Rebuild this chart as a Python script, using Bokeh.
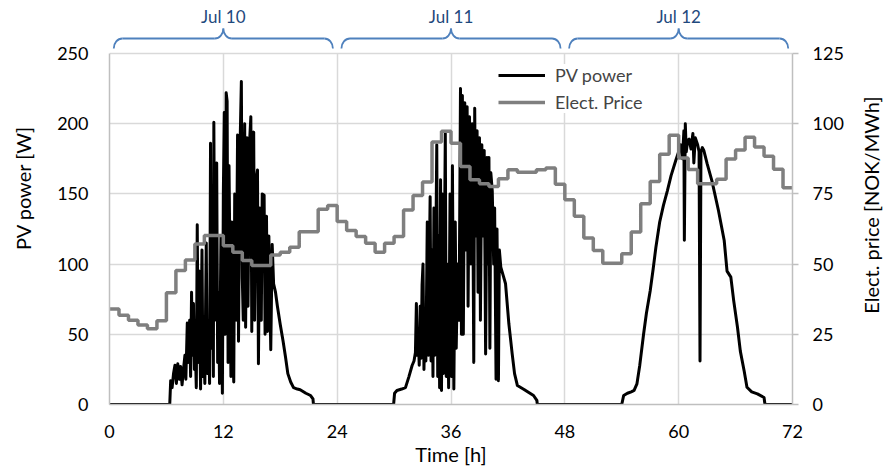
import math
from bokeh.plotting import figure
from bokeh.layouts import row
from bokeh.models import Range1d, LinearAxis, FixedTicker
from bokeh.core.properties import value
from bokeh.embed import file_html
from bokeh.resources import INLINE

# ---------------- data ----------------
x_ticks = [0, 12, 24, 36, 48, 60, 72]
pv_ticks = [0, 50, 100, 150, 200, 250]
price_ticks = [0, 25, 50, 75, 100, 125]

day_labels = ["Jul 10", "Jul 11", "Jul 12"]
day_starts = [0, 24, 48]

x_title = "Time [h]"
pv_title = "PV power [W]"
price_title = "Elect. price [NOK/MWh]"

# hourly electricity price [NOK/MWh], hour 0..71
price_hours = list(range(73))
price = [34.0, 31.8, 30.0, 28.3, 27.0, 29.8, 39.8, 47.7, 51.5, 57.2, 60.2, 60.2,
         56.5, 54.2, 51.3, 49.5, 49.5, 53.2, 54.2, 56.0, 61.5, 61.5, 69.5, 70.9,
         65.2, 62.0, 59.8, 57.4, 54.2, 57.4, 59.8, 69.3, 74.4, 79.2, 93.5, 97.3,
         93.0, 84.8, 80.0, 78.6, 77.6, 80.4, 83.6, 82.7, 82.7, 83.6, 84.2, 78.4,
         72.9, 67.0, 59.3, 54.8, 50.3, 50.3, 53.7, 61.4, 71.5, 79.4, 89.1, 95.9,
         87.8, 83.7, 78.6, 78.6, 80.2, 87.4, 90.6, 95.2, 91.7, 88.4, 83.8, 77.2]
price_steps = price + [price[-1]]

# PV power [W] (time in hours, value in W)
pv_hours = [
    0, 6.35, 6.45, 6.6, 6.75, 6.9, 7.05, 7.2, 7.35, 7.5, 7.65, 7.8, 7.95, 8.05, 8.2, 8.3,
    8.45, 8.55, 8.65, 8.75, 8.85, 8.95, 9.05, 9.15, 9.25, 9.35, 9.45, 9.6, 9.75, 9.85,
    9.95, 10.05, 10.2, 10.3, 10.45, 10.55, 10.65, 10.75, 10.85, 10.95, 11.0, 11.1, 11.2,
    11.3, 11.4, 11.5, 11.6, 11.75, 11.9, 12.0, 12.1, 12.2, 12.3, 12.4, 12.5, 12.6, 12.7,
    12.8, 12.9, 13.0, 13.1, 13.2, 13.35, 13.5, 13.6, 13.75, 13.9, 14.0, 14.1, 14.25,
    14.35, 14.5, 14.6, 14.75, 14.9, 15.0, 15.1, 15.2, 15.3, 15.45, 15.6, 15.7, 15.85,
    16.0, 16.1, 16.3, 16.4, 16.55, 16.65, 16.8, 17.0, 17.15, 17.3, 17.5, 17.7, 18.0,
    18.3, 18.55, 18.8, 19.1, 19.4, 19.8, 20.1, 20.7, 21.2, 21.45, 21.5,
    29.95, 30.05, 30.3, 30.8, 31.2, 31.55, 31.9, 32.1, 32.25, 32.35, 32.45, 32.55, 32.65,
    32.75, 32.85, 32.95, 33.05, 33.15, 33.25, 33.35, 33.5, 33.6, 33.7, 33.8, 33.9, 34.0,
    34.1, 34.2, 34.3, 34.5, 34.6, 34.7, 34.8, 34.9, 35.0, 35.1, 35.2, 35.4, 35.5, 35.6,
    35.75, 35.9, 36.05, 36.15, 36.3, 36.45, 36.55, 36.7, 36.85, 37.0, 37.1, 37.2, 37.3,
    37.45, 37.55, 37.7, 37.8, 37.95, 38.1, 38.25, 38.4, 38.5, 38.6, 38.75, 38.85, 39.0,
    39.1, 39.25, 39.4, 39.5, 39.65, 39.8, 39.9, 40.0, 40.1, 40.2, 40.35, 40.5, 40.6,
    40.75, 40.85, 41.0, 41.1, 41.25, 41.5, 41.75, 42.1, 42.45, 42.7, 43.0, 43.7, 44.2,
    44.7, 45.05, 45.1,
    54.0, 54.2, 54.6, 55.0, 55.3, 55.6, 55.9, 56.3, 56.6, 57.0, 57.3, 57.6, 58.0, 58.4,
    58.8, 59.2, 59.7, 60.0, 60.2, 60.4, 60.55, 60.6, 60.7, 60.8, 60.95, 61.1, 61.3, 61.5,
    61.6, 61.75, 62.0, 62.15, 62.25, 62.35, 62.5, 62.65, 63.0, 63.5, 64.2, 64.8, 65.1,
    65.5, 65.8, 66.2, 66.5, 66.9, 67.2, 67.7, 68.3, 69.0, 69.1, 72.0]
pv_watts = [
    0, 0, 17, 12, 22, 28, 15, 29, 18, 27, 14, 25, 35, 18, 58, 30,
    60, 20, 80, 35, 72, 25, 40, 12, 128, 30, 95, 11, 110, 20,
    40, 15, 115, 22, 60, 15, 186, 40, 120, 20, 201, 60, 150,
    172, 30, 80, 15, 120, 8, 150, 208, 50, 222, 216, 30, 170, 100,
    20, 130, 40, 16, 150, 60, 192, 45, 180, 230, 90, 60, 200,
    55, 190, 70, 185, 205, 52, 175, 194, 60, 160, 167, 29, 140,
    60, 150, 149, 50, 134, 52, 120, 39, 114, 86, 80, 70, 57,
    45, 34, 22, 16, 12, 11, 10.5, 8, 6.4, 4, 0,
    0, 8, 10, 11, 12, 19.5, 27.8, 31, 37, 72, 35, 50, 28,
    70, 33, 85, 100, 25, 60, 31, 130, 35, 90, 148, 31, 110,
    20, 140, 35, 185, 20, 120, 12, 160, 10, 150, 22, 193, 20, 100,
    12, 150, 20, 170, 11, 130, 40, 100, 60, 225, 50, 220, 50,
    215, 110, 212, 70, 205, 100, 200, 30, 211, 120, 195, 80, 190,
    60, 185, 120, 181, 36, 176, 100, 176, 40, 165, 152, 100, 140,
    18, 125, 17, 110, 97.8, 92, 86, 57.5, 36, 22, 13.5, 10.7, 8.5,
    6.4, 3, 0,
    0, 6.4, 8, 9, 10, 14.7, 28, 50, 65, 81, 96, 112, 130, 142,
    152, 163, 174, 180, 185, 175, 195, 117, 200, 180, 188, 189, 182, 193,
    172, 190, 185, 180, 31, 180, 183, 181, 171.5, 159.5, 138, 116.8, 95,
    90.7, 74, 55, 38, 24, 12.3, 9, 7.6, 5, 0, 0]

# ---------------- style ----------------
FONT = "Lato"
GRID = "#d9d9d9"
AXIS = "#bfbfbf"
BLUE_LINE = "#4F81BD"
BLUE_TEXT = "#1F497D"

H = 470
LEFT_W, RIGHT_W = 35, 27
MAIN_W = 883 - LEFT_W - RIGHT_W

Y_TOP = 287.75          # frame top (room for the day braces above 250 W)
P_TOP = Y_TOP / 2.0     # price range: 125 NOK/MWh <-> 250 W

p = figure(width=MAIN_W, height=H, x_range=Range1d(0, 72), y_range=Range1d(0, Y_TOP),
           output_backend="svg", toolbar_location=None,
           min_border_left=74, min_border_right=64, min_border_top=0, min_border_bottom=66)
p.outline_line_color = None
p.background_fill_color = "white"
p.extra_y_ranges = {"price": Range1d(0, P_TOP)}

# grids
p.xgrid.ticker = FixedTicker(ticks=x_ticks)
p.ygrid.ticker = FixedTicker(ticks=pv_ticks)
for g in (p.xgrid, p.ygrid):
    g.grid_line_color = GRID
    g.grid_line_width = 1.5
p.xgrid.cross_bounds = (0, 250)
p.ygrid.cross_bounds = (0, 72)

# bottom axis
xa = p.xaxis[0]
xa.ticker = FixedTicker(ticks=x_ticks)
xa.axis_label = x_title
xa.axis_line_color = AXIS
xa.axis_line_width = 1.5
xa.major_tick_line_color = None
xa.minor_tick_line_color = None
xa.major_label_standoff = 14
xa.axis_label_standoff = 1

# left axis
ya = p.yaxis[0]
ya.ticker = FixedTicker(ticks=pv_ticks)
ya.bounds = (0, 250)
ya.axis_line_color = AXIS
ya.axis_line_width = 1.5
ya.major_tick_line_color = None
ya.minor_tick_line_color = None
ya.major_label_standoff = 15

# right axis
ra = LinearAxis(y_range_name="price", ticker=FixedTicker(ticks=price_ticks), bounds=(0, 125))
ra.axis_line_color = AXIS
ra.axis_line_width = 1.5
ra.major_tick_line_color = AXIS
ra.major_tick_line_width = 1.5
ra.major_tick_out = 6
ra.major_tick_in = 0
ra.minor_tick_line_color = None
ra.major_label_standoff = 14
p.add_layout(ra, "right")

for ax in (xa, ya, ra):
    ax.major_label_text_font = FONT
    ax.major_label_text_font_size = "18px"
    ax.major_label_text_color = "black"
    ax.axis_label_text_font = FONT
    ax.axis_label_text_font_size = "20px"
    ax.axis_label_text_font_style = "normal"
    ax.axis_label_text_color = "black"

# data lines
p.line(pv_hours, pv_watts, line_color="black", line_width=3, line_join="round",
       legend_label="PV power")
p.step(price_hours, price_steps, mode="after", y_range_name="price",
       line_color="#7f7f7f", line_width=3.5, legend_label="Elect. Price")

# day braces above the plot area
y_end, y_mid, y_tip = 253.6, 260.7, 267.8
r, k = 0.9, 0.55
bx0, by0, bx1, by1, bc0x, bc0y, bc1x, bc1y = [], [], [], [], [], [], [], []
sx0, sy0, sx1, sy1 = [], [], [], []
for s in day_starts:
    xl, xr, xc = s + 0.45, s + 23.55, s + 12.0
    bx0.append(xl); by0.append(y_end); bx1.append(xl + r); by1.append(y_mid)
    bc0x.append(xl); bc0y.append(y_end + k * (y_mid - y_end)); bc1x.append(xl + (1 - k) * r); bc1y.append(y_mid)
    bx0.append(xc - r); by0.append(y_mid); bx1.append(xc); by1.append(y_tip)
    bc0x.append(xc - (1 - k) * r); bc0y.append(y_mid); bc1x.append(xc); bc1y.append(y_tip - k * (y_tip - y_mid))
    bx0.append(xc); by0.append(y_tip); bx1.append(xc + r); by1.append(y_mid)
    bc0x.append(xc); bc0y.append(y_tip - k * (y_tip - y_mid)); bc1x.append(xc + (1 - k) * r); bc1y.append(y_mid)
    bx0.append(xr - r); by0.append(y_mid); bx1.append(xr); by1.append(y_end)
    bc0x.append(xr - (1 - k) * r); bc0y.append(y_mid); bc1x.append(xr); bc1y.append(y_end + k * (y_mid - y_end))
    sx0 += [xl + r, xc + r]; sx1 += [xc - r, xr - r]; sy0 += [y_mid, y_mid]; sy1 += [y_mid, y_mid]

p.bezier(x0=bx0, y0=by0, x1=bx1, y1=by1, cx0=bc0x, cy0=bc0y, cx1=bc1x, cy1=bc1y,
         line_color=BLUE_LINE, line_width=1.8)
p.segment(x0=sx0, y0=sy0, x1=sx1, y1=sy1, line_color=BLUE_LINE, line_width=1.8)
p.text(x=[s + 12 for s in day_starts], y=[276.0] * 3, text=day_labels,
       text_font=value(FONT), text_font_size="17px", text_color=BLUE_TEXT,
       text_align="center", text_baseline="middle")

# legend
lg = p.legend[0]
lg.location = (389, 291)
lg.label_text_font = FONT
lg.label_text_font_size = "18px"
lg.glyph_width = 47
lg.glyph_height = 20
lg.label_height = 20
lg.spacing = 5
lg.padding = 5
lg.margin = 0
lg.label_standoff = 10
lg.border_line_color = None
lg.background_fill_color = "white"
lg.background_fill_alpha = 1.0


# side strips carrying the rotated axis titles (read bottom-to-top)
def title_strip(width, x, y, text):
    f = figure(width=width, height=H, x_range=Range1d(0, width), y_range=Range1d(0, H),
               output_backend="svg", toolbar_location=None,
               x_axis_location=None, y_axis_location=None, min_border=0)
    f.outline_line_color = None
    f.grid.visible = False
    f.text(x=[x], y=[y], text=[text], angle=math.pi / 2, text_font=value(FONT),
           text_font_size="20px", text_color="black", text_align="center",
           text_baseline="middle")
    return f


left = title_strip(LEFT_W, 22, H - 218, pv_title)
right = title_strip(RIGHT_W, 14, H - 238, price_title)

layout = row(left, p, right)
open("out.html", "w").write(file_html(layout, INLINE))
